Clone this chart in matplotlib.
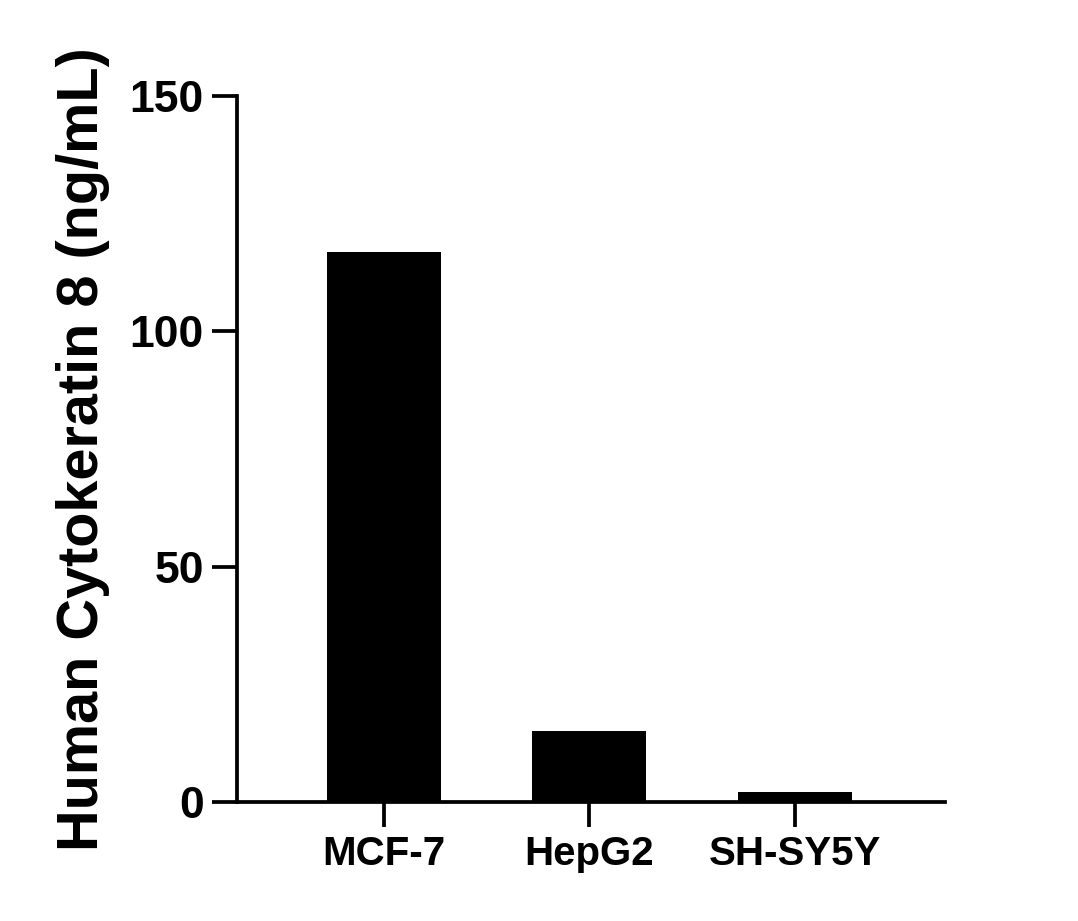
import matplotlib
matplotlib.use("Agg")
import matplotlib.pyplot as plt

categories = ["MCF-7", "HepG2", "SH-SY5Y"]
values = [116.8, 15.1, 2.1]
yticks = [0, 50, 100, 150]

plt.rcParams['font.family'] = ['Liberation Sans', 'DejaVu Sans']
fig = plt.figure(figsize=(10.78, 9.21), dpi=100)
ax = fig.add_axes([0.2199, 0.1292, 0.6567, 0.7666])
x = list(range(len(categories)))
ax.bar(x, values, width=0.555, color='black')
ax.set_xlim(-0.715, 2.73)
ax.set_ylim(0, 150)
ax.set_yticks(yticks)
ax.set_xticks(x)
ax.set_xticklabels(categories, fontsize=29, fontweight='bold')
ax.set_yticklabels([str(t) for t in yticks], fontsize=32, fontweight='bold')
ax.set_ylabel("Human Cytokeratin 8 (ng/mL)", fontsize=41.5, fontweight='bold', labelpad=14)
for s in ['top', 'right']:
    ax.spines[s].set_visible(False)
for s in ['left', 'bottom']:
    ax.spines[s].set_linewidth(2.7)
ax.tick_params(axis='both', length=18, width=2.7, pad=6)
fig.savefig("out.png", dpi=100)
